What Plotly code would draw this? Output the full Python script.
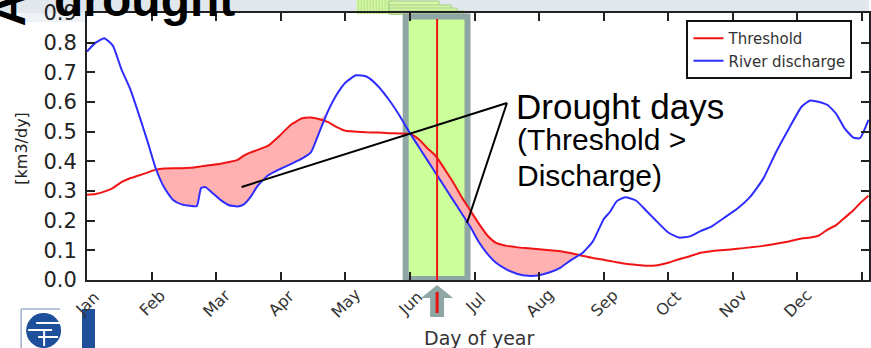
import numpy as np
import plotly.graph_objects as go

# ---------------- data ----------------
days = [0, 4, 8, 12, 16, 20, 24, 28, 32, 36, 40, 44, 48, 51, 53, 55, 58, 62, 66, 70,
        73, 76, 79, 84, 90, 95, 100, 104, 108, 112, 116, 120, 125, 130, 135, 140, 145,
        150, 154, 158, 162, 166, 170, 174, 178, 182, 186, 190, 195, 200, 205, 210, 215,
        220, 225, 230, 235, 240, 243, 246, 250, 255, 260, 265, 270, 275, 280, 285, 290,
        296, 302, 308, 314, 320, 326, 332, 336, 340, 344, 348, 352, 356, 359, 363]

discharge = [0.77, 0.80, 0.815, 0.79, 0.71, 0.645, 0.56, 0.47, 0.375, 0.31, 0.27, 0.255,
             0.25, 0.249, 0.31, 0.313, 0.295, 0.27, 0.252, 0.248, 0.256, 0.28, 0.315,
             0.352, 0.375, 0.392, 0.41, 0.43, 0.50, 0.57, 0.625, 0.665, 0.69, 0.685,
             0.655, 0.61, 0.556, 0.495, 0.45, 0.405, 0.36, 0.315, 0.27, 0.225, 0.18,
             0.128, 0.088, 0.058, 0.035, 0.02, 0.014, 0.016, 0.026, 0.042, 0.068, 0.09,
             0.13, 0.205, 0.23, 0.265, 0.279, 0.268, 0.232, 0.195, 0.16, 0.143, 0.147,
             0.165, 0.18, 0.21, 0.24, 0.28, 0.34, 0.43, 0.51, 0.585, 0.605, 0.60, 0.59,
             0.56, 0.51, 0.48, 0.478, 0.54]

threshold = [0.287, 0.29, 0.298, 0.31, 0.33, 0.343, 0.352, 0.362, 0.372, 0.376, 0.377,
             0.377, 0.378, 0.381, 0.383, 0.385, 0.388, 0.392, 0.398, 0.405, 0.42, 0.43,
             0.438, 0.452, 0.49, 0.525, 0.545, 0.548, 0.542, 0.532, 0.515, 0.503, 0.50,
             0.498, 0.497, 0.495, 0.494, 0.492, 0.475, 0.445, 0.418, 0.375, 0.33, 0.28,
             0.235, 0.19, 0.15, 0.125, 0.115, 0.11, 0.107, 0.104, 0.10, 0.097, 0.09,
             0.082, 0.074, 0.068, 0.064, 0.06, 0.055, 0.051, 0.048, 0.05, 0.058, 0.07,
             0.08, 0.092, 0.097, 0.101, 0.105, 0.11, 0.115, 0.122, 0.13, 0.14, 0.143,
             0.15, 0.17, 0.185, 0.21, 0.235, 0.258, 0.284]

month_labels = ["Jan", "Feb", "Mar", "Apr", "May", "Jun",
                "Jul", "Aug", "Sep", "Oct", "Nov", "Dec"]
month_ticks = [0, 30, 60, 90, 120, 150, 180, 210, 240, 270, 300, 330, 360]
y_ticks = [0.0, 0.1, 0.2, 0.3, 0.4, 0.5, 0.6, 0.7, 0.8, 0.9]
y_tick_text = ["0.0", "0.1", "0.2", "0.3", "0.4", "0.5", "0.6", "0.7", "0.8", "0.9"]

# ---------------- geometry helpers ----------------
W, H = 871, 348
L, R, T, B = 87, 871, 13, 280
X_MAX = (R - L) * 360.0 / 777.0


def px(x):
    return (x - L) / (R - L)


def py(y):
    return (B - y) / (B - T)


RED = "rgb(240,20,20)"
BLUE = "rgb(45,45,255)"
PINK = "rgb(255,176,176)"
GREY = "#8ea6a4"
AX = "#222222"

upper = np.maximum(np.array(threshold), np.array(discharge))

fig = go.Figure()
fig.add_trace(go.Scatter(x=days, y=discharge, mode="lines", line=dict(width=0, shape="spline", smoothing=0.5),
                         showlegend=False, hoverinfo="skip"))
fig.add_trace(go.Scatter(x=days, y=upper, mode="lines", fill="tonexty", fillcolor=PINK,
                         line=dict(width=0, shape="spline", smoothing=0.5), showlegend=False, hoverinfo="skip"))
fig.add_trace(go.Scatter(x=days, y=threshold, mode="lines", name="Threshold",
                         line=dict(color=RED, width=2, shape="spline", smoothing=0.5)))
fig.add_trace(go.Scatter(x=days, y=discharge, mode="lines", name="River discharge",
                         line=dict(color=BLUE, width=2, shape="spline", smoothing=0.5)))

shapes = []
# slide background band at top
shapes.append(dict(type="rect", xref="paper", yref="paper", x0=px(0), x1=px(W), y0=py(13), y1=py(0),
                   fillcolor="#e2e7ee", line=dict(width=0), layer="below"))
shapes.append(dict(type="rect", xref="paper", yref="paper", x0=px(20), x1=px(86), y0=py(22), y1=py(13),
                   fillcolor="#eef1f5", line=dict(width=0), layer="below"))
# green hatched bits at the top
shapes.append(dict(type="rect", xref="paper", yref="paper", x0=px(357), x1=px(398), y0=py(14), y1=py(0),
                   fillcolor="#d3f5a6", line=dict(width=0), layer="below"))
for xx in range(359, 398, 3):
    shapes.append(dict(type="line", xref="paper", yref="paper", x0=px(xx), x1=px(xx), y0=py(14), y1=py(0),
                       line=dict(color="#b5e387", width=1), layer="below"))
for (x1, y0) in [(440, 1), (452, 5), (458, 8), (465, 11)]:
    shapes.append(dict(type="rect", xref="paper", yref="paper", x0=px(390), x1=px(x1), y0=py(14), y1=py(y0),
                       fillcolor="#d3f5a6", line=dict(color="#a9cf86", width=1), layer="below"))
# highlighted June window
shapes.append(dict(type="rect", xref="paper", yref="paper", x0=px(406.5), x1=px(468.5), y0=py(279), y1=py(16.5),
                   fillcolor="#ccff99", line=dict(color=GREY, width=6), layer="below"))
shapes.append(dict(type="line", xref="paper", yref="paper", x0=px(438), x1=px(438), y0=py(280), y1=py(19),
                   line=dict(color=RED, width=2), layer="above"))
# arrow below the axis
pts = [(438, 285), (454, 298), (445, 298), (445, 317), (431, 317), (431, 298), (422, 298)]
path = "M " + " L ".join(f"{px(a):.5f},{py(b):.5f}" for a, b in pts) + " Z"
shapes.append(dict(type="path", xref="paper", yref="paper", path=path, fillcolor=GREY, line=dict(width=0)))
shapes.append(dict(type="line", xref="paper", yref="paper", x0=px(438), x1=px(438), y0=py(313), y1=py(292),
                   line=dict(color="rgb(230,20,20)", width=3)))
# callout lines
for (ex, ey) in [(242, 187), (468, 223)]:
    shapes.append(dict(type="line", xref="paper", yref="paper", x0=px(508), y0=py(103), x1=px(ex), y1=py(ey),
                       line=dict(color="black", width=2)))
# logo
shapes.append(dict(type="line", xref="paper", yref="paper", x0=px(21), x1=px(60), y0=py(309), y1=py(309),
                   line=dict(color="#9fb0cc", width=1.5)))
shapes.append(dict(type="line", xref="paper", yref="paper", x0=px(21), x1=px(21), y0=py(309), y1=py(348),
                   line=dict(color="#9fb0cc", width=1.5)))
shapes.append(dict(type="circle", xref="paper", yref="paper", x0=px(26), x1=px(61), y0=py(348), y1=py(313),
                   fillcolor="#1d4f9a", line=dict(width=0)))
for (a, b, c) in [(36, 60, 323), (28, 52, 330), (38, 58, 337)]:
    shapes.append(dict(type="line", xref="paper", yref="paper", x0=px(a), x1=px(b), y0=py(c), y1=py(c),
                       line=dict(color="white", width=2)))
shapes.append(dict(type="line", xref="paper", yref="paper", x0=px(44), x1=px(44), y0=py(330), y1=py(346),
                   line=dict(color="white", width=2)))
shapes.append(dict(type="rect", xref="paper", yref="paper", x0=px(82), x1=px(95), y0=py(348), y1=py(309),
                   fillcolor="#1d4f9a", line=dict(width=0)))

ann = []
ann.append(dict(text="drought", xref="paper", yref="paper", x=px(52), y=py(-0.6), xanchor="left",
                yanchor="middle", showarrow=False,
                font=dict(family="Liberation Sans", size=48, color="black", weight="bold")))
ann.append(dict(text="A", xref="paper", yref="paper", x=px(8.4), y=py(9), xanchor="center",
                yanchor="middle", showarrow=False, textangle=-90,
                font=dict(family="Liberation Sans", size=48, color="black", weight="bold")))
ann.append(dict(text="Drought days", xref="paper", yref="paper", x=px(515), y=py(107), xanchor="left",
                yanchor="middle", showarrow=False, font=dict(family="Liberation Sans", size=35, color="black")))
ann.append(dict(text="(Threshold >", xref="paper", yref="paper", x=px(516), y=py(139.6), xanchor="left",
                yanchor="middle", showarrow=False, font=dict(family="Liberation Sans", size=30, color="black")))
ann.append(dict(text="Discharge)", xref="paper", yref="paper", x=px(516), y=py(175.6), xanchor="left",
                yanchor="middle", showarrow=False, font=dict(family="Liberation Sans", size=30, color="black")))
ann.append(dict(text="Day of year", xref="paper", yref="paper", x=px(480), y=py(338.4), xanchor="center",
                yanchor="middle", showarrow=False, font=dict(family="DejaVu Sans", size=19, color="#333333")))
ann.append(dict(text="[km3/dy]", xref="paper", yref="paper", x=px(21), y=py(148.5), xanchor="center",
                yanchor="middle", showarrow=False, textangle=-90,
                font=dict(family="DejaVu Sans", size=16, color="#222222")))
for lab, d in zip(month_labels, month_ticks):
    ann.append(dict(text=lab, xref="x", yref="paper", x=d, y=py(303), xanchor="center", yanchor="middle",
                    showarrow=False, textangle=-45,
                    font=dict(family="DejaVu Sans", size=16, color="#333333")))

axis_common = dict(showline=True, linecolor=AX, linewidth=2, mirror="ticks", ticks="inside",
                   ticklen=8, tickwidth=1.5, tickcolor=AX, showgrid=False, zeroline=False)

fig.update_layout(
    width=W, height=H,
    margin=dict(l=L, r=W - R, t=T, b=H - B, pad=0),
    paper_bgcolor="white", plot_bgcolor="white",
    xaxis=dict(range=[0, X_MAX], tickvals=month_ticks, showticklabels=False, **axis_common),
    yaxis=dict(range=[0, 0.9], tickvals=y_ticks, ticktext=y_tick_text, ticklabelstandoff=4,
               tickfont=dict(family="DejaVu Sans", size=21, color="#222222"), **axis_common),
    legend=dict(x=px(688), y=py(20), xanchor="left", yanchor="top", bgcolor="white",
                bordercolor="#111111", borderwidth=2, traceorder="normal", tracegroupgap=0,
                font=dict(family="DejaVu Sans", size=15, color="#333333")),
    shapes=shapes, annotations=ann, showlegend=True,
)

fig.write_html("out.html")
